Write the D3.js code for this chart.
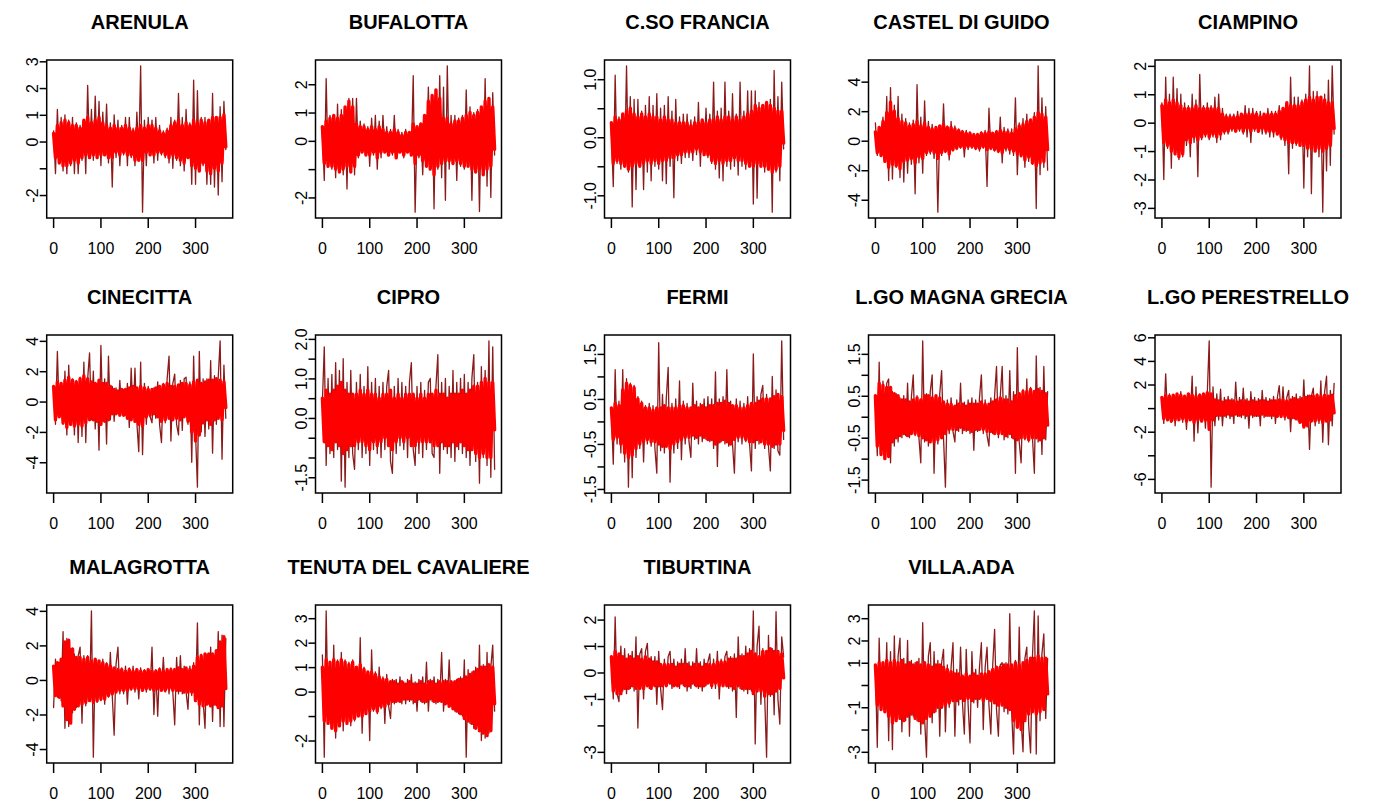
<!DOCTYPE html>
<html>
<head>
<meta charset="utf-8">
<script src="https://cdn.jsdelivr.net/npm/d3@7"></script>
<style>
  body { margin: 0; background: #fff; }
  text { font-family: "Liberation Sans", Arial, sans-serif; }
</style>
</head>
<body>
<script>
// station names, in panel order
const stations = ["ARENULA", "BUFALOTTA", "C.SO FRANCIA", "CASTEL DI GUIDO", "CIAMPINO",
  "CINECITTA", "CIPRO", "FERMI", "L.GO MAGNA GRECIA", "L.GO PERESTRELLO",
  "MALAGROTTA", "TENUTA DEL CAVALIERE", "TIBURTINA", "VILLA.ADA"];

// observed series (dark line), values read every ~4 days
const arenula = [0.4,-1.2,1.2,-0.6,0.9,-1.1,1.0,-1.2,0.8,-0.9,0.9,-1.2,0.7,-1.2,0.6,-0.7,0.8,-1.2,2.1,-0.5,1.2,-0.7,1.7,-0.6,1.5,-0.9,1.1,-0.5,1.4,-0.8,0.7,-1.7,1.0,-0.6,0.8,-0.9,0.6,-0.5,0.9,-0.9,0.9,-0.6,0.5,-0.9,1.1,-0.6,2.83,-2.64,0.8,-0.9,0.9,-0.5,0.8,-0.8,0.9,-0.7,0.6,-0.5,0.4,-0.6,0.5,-0.8,0.9,-1.0,0.8,-0.7,1.8,-0.9,0.9,-1.1,1.2,-0.6,0.7,-1.6,2.3,-1.6,1.9,-1.1,0.9,-0.9,0.9,-1.6,0.8,-1.6,1.8,-1.7,0.9,-2.0,1.3,-1.5,1.5,-0.3];
const bufalotta = [0.3,-1.4,2.2,-0.9,0.9,-1.0,0.8,-1.3,1.3,-1.0,1.1,-1.2,1.0,-1.7,1.5,-1.0,1.5,-1.2,1.5,-0.6,0.7,-0.4,0.6,-0.5,0.5,-0.9,0.8,-0.5,0.9,-1.0,0.7,-0.6,0.9,-0.4,0.5,-0.5,0.4,-0.5,0.9,-0.6,0.4,-0.4,0.3,-0.6,0.4,-0.3,0.3,-0.5,2.3,-2.52,0.4,-0.6,0.5,-1.2,0.6,-0.7,1.9,-0.8,1.5,-2.4,1.8,-1.0,2.3,-1.3,1.9,-2.1,2.65,-1.0,0.9,-0.8,0.9,-1.4,0.8,-0.9,0.9,-1.0,1.8,-0.9,1.2,-2.1,1.0,-1.0,1.1,-2.5,1.2,-1.1,2.2,-1.6,1.5,-2.0,1.7,-0.5];
const corsoFrancia = [0.1,-0.85,1.07,-0.45,0.35,-0.55,0.4,-0.5,1.23,-0.6,0.7,-1.2,0.65,-0.9,0.65,-0.5,0.45,-0.9,0.55,-0.6,0.7,-0.75,0.55,-0.5,0.75,-0.55,0.5,-0.75,0.55,-0.8,0.7,-0.5,0.45,-1.04,0.65,-0.4,0.35,-0.45,0.4,-0.35,0.4,-0.35,0.3,-0.4,0.35,-0.3,0.6,-0.5,0.3,-0.3,0.5,-0.35,0.4,-0.45,0.95,-0.55,0.45,-0.7,0.5,-0.75,0.95,-0.5,0.45,-0.55,0.75,-0.5,0.4,-0.65,0.95,-0.5,0.45,-0.55,0.8,-0.5,0.8,-1.15,0.8,-1.05,0.6,-0.5,0.55,-0.6,0.6,-0.55,0.65,-1.29,1.15,-0.6,0.7,-0.75,0.95,-0.2];
const castelDiGuido = [1.2,-1.0,0.8,-0.6,1.6,-1.2,3.0,-2.7,3.6,-2.6,2.4,-1.8,3.0,-2.5,1.8,-2.8,1.5,-2.2,1.2,-1.6,1.4,-3.6,3.8,-1.5,1.6,-2.2,2.7,-1.0,1.3,-0.9,1.1,-1.2,0.9,-4.84,0.9,-1.0,2.5,-0.8,1.0,-1.3,1.3,-0.7,1.0,-0.6,0.8,-0.5,0.7,-1.1,0.7,-0.6,0.6,-0.5,0.5,-0.6,0.5,-0.7,0.6,-0.5,0.7,-3.1,2.2,-0.6,0.5,-0.7,0.7,-0.8,1.6,-1.5,0.9,-0.7,0.8,-0.9,0.8,-1.0,2.9,-2.3,1.2,-1.1,1.5,-1.8,1.8,-1.4,1.4,-1.6,1.9,-4.6,5.07,-2.3,2.9,-1.8,2.3,-2.0];
const ciampino = [0.7,-2.0,1.6,-0.9,1.0,-1.6,1.6,-1.0,1.2,-1.3,1.0,-1.2,0.7,-0.8,0.6,-1.2,1.0,-0.7,0.8,-1.9,1.7,-0.6,0.6,-0.5,0.7,-0.6,0.6,-0.5,0.9,-0.7,1.0,-0.6,0.5,-0.4,0.3,-0.4,0.3,-0.3,0.3,-0.3,0.4,-0.3,0.3,-0.4,0.6,-0.5,0.5,-0.7,0.5,-0.3,0.4,-0.3,0.4,-0.4,0.3,-0.4,0.5,-0.5,0.4,-0.5,0.4,-0.4,0.6,-0.6,0.5,-0.8,0.6,-1.8,1.6,-0.9,0.9,-0.8,0.9,-0.7,0.8,-2.3,1.0,-1.2,2.0,-2.5,1.1,-1.0,1.1,-1.2,0.9,-3.15,1.0,-1.7,1.5,-1.5,2.0,-0.4];
const cinecitta = [0.8,-1.5,3.3,-0.8,1.2,-1.5,2.0,-2.2,2.4,-1.4,1.5,-2.2,1.4,-2.7,1.6,-2.3,2.6,-2.7,1.5,3.2,-1.2,2.0,-1.8,1.2,-3.2,3.7,-1.3,1.5,-2.8,3.0,-1.2,1.0,-1.3,0.9,-0.8,1.4,-0.7,0.8,-0.9,1.2,-1.7,2.2,-1.0,2.2,-1.4,-3.3,2.6,-3.5,1.2,-1.5,1.0,-1.0,-1.4,0.9,-1.1,1.3,-1.5,-2.7,1.2,-1.4,1.5,3.0,-2.6,1.2,1.8,-1.5,-2.2,1.4,-1.9,1.5,1.6,-1.5,1.3,-4.0,3.0,-2.1,-5.64,3.3,-2.0,1.5,-2.3,1.5,-1.8,2.7,-3.4,1.7,-1.5,1.6,4.0,-3.8,2.4,-1.1];
const cipro = [0.4,1.8,-1.2,1.0,-0.9,1.1,-1.0,1.4,-0.8,1.2,-1.6,1.5,-1.75,0.9,-1.0,1.2,-0.9,-1.3,0.9,-0.8,1.1,-1.0,0.8,-0.9,1.3,-1.2,0.9,-0.8,1.0,-0.9,0.8,-1.0,0.9,-0.8,0.8,1.2,-1.1,-1.4,0.8,-0.9,1.0,-0.7,0.9,-0.8,0.8,-1.0,0.9,1.4,-0.8,-1.2,0.8,-0.9,0.9,-1.0,0.7,-0.8,0.9,1.0,-0.9,-1.0,0.8,1.6,-1.4,0.9,-0.8,1.0,-0.9,0.8,-1.0,1.2,-1.1,0.9,-0.8,1.0,-0.9,1.1,-1.0,0.9,-1.2,1.0,1.6,-1.1,0.9,-1.65,1.3,-1.0,1.2,-1.2,1.95,-1.5,1.8,-1.3];
const fermi = [0.2,-0.95,1.15,-0.5,0.45,-0.7,1.15,-0.9,0.95,-1.46,0.85,-1.25,0.8,-0.8,0.55,-0.6,0.45,-0.9,0.35,-0.5,0.4,-0.55,0.35,-0.6,-1.15,1.75,-0.65,0.6,-0.7,0.5,1.2,-1.35,0.4,-0.7,0.5,-0.6,0.9,-0.85,0.45,-0.5,0.4,-0.45,-0.8,0.85,-0.4,0.45,-0.5,0.4,-0.45,0.5,-0.4,0.55,-0.45,0.5,-0.6,1.1,-1.0,0.5,-0.45,0.55,-0.5,1.15,-0.55,0.45,-0.5,-1.15,0.5,-0.45,0.45,-0.5,0.4,-0.45,0.55,-0.5,-1.1,1.5,-0.6,0.55,-0.5,0.6,0.8,-0.6,0.6,-0.55,-1.1,1.0,-0.6,0.7,-0.65,-0.75,1.79,-0.4];
const magnaGrecia = [0.4,-0.93,1.3,-0.9,0.85,-1.0,0.8,0.9,-1.1,0.6,-0.7,0.55,-0.6,0.45,-0.5,0.5,-0.45,0.8,-0.5,0.45,1.0,-0.45,0.5,-0.5,-1.1,1.81,-0.6,0.55,-0.7,0.6,1.0,-1.35,0.5,-0.65,0.55,1.1,-0.5,-1.68,0.4,-0.4,0.45,-0.35,-0.6,0.4,-0.35,0.8,-0.4,0.35,-0.35,0.4,-0.4,0.45,-0.8,0.4,-0.35,0.45,1.0,-0.4,0.4,-0.45,-0.7,0.45,-0.4,0.5,1.2,-0.5,0.5,1.2,-0.55,0.5,-0.5,1.1,-0.5,0.6,-1.35,1.65,-0.6,-1.1,0.65,-0.55,0.9,-0.6,0.7,-0.5,-1.35,1.45,-0.6,0.7,-0.9,1.2,-0.55,0.6];
const perestrello = [0.8,-1.3,2.9,-0.9,1.2,-1.2,1.0,-1.5,1.1,-0.9,1.4,-1.2,0.9,-1.8,1.2,-1.0,2.7,-2.8,1.8,-2.1,1.2,-1.1,1.0,-1.7,1.3,5.7,-6.7,1.8,-1.5,1.2,-1.0,1.6,-1.5,0.9,-0.8,1.0,-0.9,0.8,-1.3,2.2,-0.7,0.9,-0.8,1.7,-0.9,0.8,-1.7,1.4,-0.8,0.9,-0.7,0.8,-1.5,1.5,-0.8,0.9,-0.7,0.8,-0.9,1.0,-1.3,0.9,1.9,-0.8,1.8,-1.0,0.9,1.5,-2.0,1.0,-0.9,1.2,-1.1,1.0,-1.2,2.4,-1.5,1.1,-3.5,1.0,1.7,-1.5,1.2,-1.3,2.3,-2.9,1.4,2.7,-3.1,1.5,-1.5,2.1];
const malagrotta = [-1.6,1.2,-1.0,1.0,-1.2,2.8,-2.8,2.4,-2.7,1.8,-1.9,1.5,-1.6,1.4,1.9,-2.5,1.4,-1.5,1.4,-1.2,4.0,-4.47,1.2,-1.3,1.1,-1.2,1.2,-1.4,1.0,-1.0,1.6,-0.9,-3.2,0.9,1.9,-0.8,0.7,-0.8,0.8,-1.4,0.7,-0.6,0.8,-0.7,0.6,-1.1,0.7,-0.6,0.6,-0.7,0.5,-0.6,1.9,-2.0,0.6,-2.1,0.7,-0.6,1.3,-0.7,0.6,-0.8,0.7,-0.7,-2.6,1.3,-0.8,1.4,-0.8,0.8,-0.7,-1.7,0.8,-0.9,1.0,-1.1,3.3,-2.6,1.5,-1.2,-2.8,1.5,-1.4,1.9,-2.4,1.4,-1.5,2.8,-2.7,2.6,-2.7,2.4];
const tenuta = [1.5,-2.68,3.3,-1.0,1.2,-1.5,1.9,-1.9,1.3,-1.0,1.6,-1.6,1.3,-1.2,1.2,-1.4,1.3,-1.2,1.0,-1.0,2.2,-1.7,1.0,-0.9,0.8,-2.0,1.7,-0.8,0.8,-0.9,1.0,-0.7,0.6,-1.3,0.7,-0.6,-1.1,0.5,-0.5,0.5,-0.4,0.6,-0.5,0.4,-0.5,0.5,-0.4,0.7,-0.5,0.4,-0.8,0.5,-0.4,0.6,-0.5,1.2,-0.8,0.5,-0.4,0.6,-0.5,0.5,-0.4,1.6,-0.8,0.5,-0.5,1.3,-0.6,0.4,-0.8,0.5,-0.9,0.6,-1.0,1.3,-2.68,0.9,-1.3,0.8,-1.5,1.0,-1.4,1.9,-2.0,1.1,-1.9,1.6,-1.7,1.0,1.9,-0.8];
const tiburtina = [0.5,-1.0,2.1,-0.8,-1.1,1.0,-0.7,0.9,-0.8,0.7,-0.6,0.8,-0.7,1.35,-2.1,0.7,0.9,-1.0,0.8,1.1,-0.6,0.6,-0.5,0.6,-1.2,0.8,-0.6,-1.4,0.5,-0.5,0.6,0.8,-0.6,0.5,-0.5,0.4,-0.6,0.5,-0.5,0.9,-0.7,0.4,-0.6,0.4,-0.5,0.9,-0.6,0.4,-0.7,0.5,-0.5,0.4,0.7,-0.6,0.5,-0.6,0.8,-1.0,0.5,-0.5,0.6,0.8,-0.6,0.6,-0.7,0.7,-1.7,1.35,-0.6,0.7,-0.7,1.0,-0.8,0.9,-0.7,2.33,-2.7,1.0,1.75,-1.2,0.9,-0.9,-3.2,1.4,-0.9,0.9,-1.6,2.3,-1.0,-1.95,1.35,0.6];
const villaAda = [0.8,-2.8,2.1,-1.0,0.9,-1.2,1.9,-2.5,1.5,-2.9,2.2,-1.5,1.3,2.1,-2.1,1.2,-1.6,2.0,-2.3,1.1,-1.4,1.0,-1.6,1.2,-2.2,2.8,-1.5,-3.24,1.3,1.9,-1.7,1.5,-1.2,1.1,-2.3,1.0,1.6,-2.1,0.9,-1.0,0.8,1.9,-2.3,0.7,-0.9,1.7,-0.8,-2.2,1.6,-0.9,-2.6,1.5,-0.8,0.7,-1.0,0.8,1.9,-2.0,0.8,1.7,-0.9,-2.2,0.9,2.5,-1.1,-2.3,0.9,1.0,-1.2,1.0,-1.3,3.2,-1.2,-3.1,1.1,-1.5,2.6,-1.6,-3.0,1.2,1.7,-1.8,-3.05,1.3,3.33,-3.1,3.1,-1.6,1.4,2.3,-1.5,1.2];

// fitted series (red band)
const arenulaFit = [0.3,-0.6,0.6,-0.8,0.7,-0.9,0.8,-0.9,0.7,-0.8,0.6,-0.7,0.6,-0.8,0.5,-0.6,0.8,-0.5,0.9,-0.6,0.7,-0.5,0.8,-0.6,0.9,-0.5,0.7,-0.5,0.6,-0.6,0.5,-0.6,0.6,-0.4,0.5,-0.5,0.5,-0.4,0.6,-0.5,0.5,-0.5,0.4,-0.7,0.5,-0.7,0.6,-0.7,0.5,-0.4,0.6,-0.5,0.6,-0.5,0.5,-0.4,0.4,-0.4,0.3,-0.5,0.4,-0.6,0.6,-0.5,0.7,-0.6,0.8,-0.7,0.6,-0.8,0.7,-0.6,0.6,-0.9,0.8,-1.0,0.7,-1.1,0.8,-0.8,0.7,-1.1,0.8,-1.2,0.9,-1.0,0.9,-1.1,0.9,-0.8,1.0,-0.2];
const bufalottaFit = [0.5,-0.8,0.7,-0.9,0.8,-0.9,0.9,-1.0,0.8,-1.1,0.9,-1.0,1.2,-0.9,1.4,-1.1,1.2,-0.9,0.6,-0.5,0.5,-0.4,0.5,-0.5,0.4,-0.5,0.5,-0.4,0.4,-0.6,0.5,-0.4,0.4,-0.4,0.3,-0.5,0.3,-0.4,0.4,-0.6,0.3,-0.4,0.2,-0.5,0.3,-0.4,0.3,-0.5,0.6,-0.8,0.5,-0.5,0.6,-0.7,0.9,-0.9,1.4,-1.0,1.6,-1.2,1.8,-0.9,1.5,-0.8,0.8,-0.7,0.8,-0.7,0.6,-0.8,0.7,-0.7,0.7,-0.8,0.8,-0.9,0.9,-0.9,1.0,-1.0,0.9,-1.1,1.0,-1.0,1.2,-1.2,1.4,-1.0,1.5,-0.9,1.2,-0.3];
const corsoFranciaFit = [0.25,-0.45,0.35,-0.4,0.3,-0.45,0.4,-0.5,0.45,-0.55,0.5,-0.5,0.4,-0.45,0.35,-0.5,0.4,-0.45,0.35,-0.4,0.4,-0.45,0.35,-0.4,0.35,-0.45,0.3,-0.4,0.35,-0.4,0.3,-0.35,0.3,-0.35,0.25,-0.3,0.25,-0.3,0.25,-0.25,0.25,-0.25,0.2,-0.25,0.25,-0.2,0.25,-0.25,0.3,-0.3,0.25,-0.3,0.3,-0.4,0.3,-0.45,0.35,-0.4,0.3,-0.45,0.35,-0.4,0.35,-0.4,0.3,-0.35,0.35,-0.4,0.3,-0.4,0.35,-0.45,0.4,-0.5,0.45,-0.5,0.55,-0.45,0.5,-0.5,0.55,-0.5,0.6,-0.55,0.55,-0.6,0.5,-0.55,0.45,-0.5,0.45,-0.1];
const castelDiGuidoFit = [0.6,-0.8,0.9,-1.0,1.3,-1.4,1.9,-1.8,2.6,-1.6,2.0,-1.7,1.5,-1.9,1.3,-1.4,1.2,-1.3,1.0,-1.2,1.1,-1.5,1.3,-1.1,1.0,-1.2,1.2,-0.8,0.9,-0.7,0.8,-0.8,0.9,-1.2,1.0,-0.8,1.1,-0.7,0.9,-0.9,0.9,-0.6,0.8,-0.5,0.7,-0.4,0.6,-0.5,0.5,-0.4,0.5,-0.4,0.4,-0.5,0.4,-0.5,0.5,-0.4,0.5,-0.6,0.6,-0.5,0.5,-0.6,0.6,-0.7,0.7,-0.8,0.6,-0.5,0.6,-0.6,0.5,-0.7,0.8,-0.9,1.0,-1.0,1.1,-1.3,1.3,-1.1,1.4,-1.5,1.6,-1.7,1.9,-1.5,1.8,-1.4,1.6,-0.6];
const ciampinoFit = [0.6,-0.7,0.8,-0.8,0.7,-1.0,0.8,-1.1,0.7,-1.2,0.6,-1.1,0.5,-0.6,0.5,-0.7,0.5,-0.5,0.6,-0.6,0.5,-0.5,0.5,-0.4,0.5,-0.5,0.5,-0.4,0.5,-0.5,0.5,-0.4,0.3,-0.3,0.2,-0.3,0.2,-0.2,0.2,-0.3,0.2,-0.2,0.3,-0.3,0.3,-0.2,0.3,-0.3,0.3,-0.2,0.3,-0.3,0.2,-0.2,0.3,-0.3,0.3,-0.3,0.3,-0.3,0.3,-0.4,0.4,-0.5,0.5,-0.6,0.7,-0.7,0.6,-0.7,0.6,-0.7,0.6,-0.8,0.7,-0.8,0.8,-0.9,0.9,-0.9,0.8,-1.0,0.9,-0.9,0.9,-1.0,0.8,-0.9,0.7,-0.8,0.7,-0.2];
const cinecittaFit = [1.0,-1.2,1.3,-1.0,1.2,-1.4,1.4,-1.7,1.6,-1.5,1.4,-1.6,1.3,-1.5,1.5,-1.6,1.7,-1.4,1.5,-1.2,1.3,-1.2,1.2,-1.3,1.4,-1.5,1.2,-1.3,1.2,-1.2,1.0,-0.8,0.8,-0.8,0.7,-0.9,0.8,-0.9,0.8,-1.1,0.9,-1.2,1.0,-1.3,0.9,-1.5,1.0,-1.6,0.9,-1.0,0.8,-0.9,0.8,-0.8,0.9,-1.0,1.0,-1.3,1.1,-1.2,1.2,-1.1,1.0,-1.2,1.0,-1.1,1.1,-1.2,1.2,-1.0,1.2,-1.3,1.1,-2.0,1.3,-2.6,1.4,-2.2,1.2,-1.4,1.3,-1.2,1.4,-1.5,1.4,-1.2,1.5,-1.1,1.4,-1.2,1.3,-0.4];
const ciproFit = [0.5,-0.6,0.7,-0.7,0.6,-0.8,0.7,-0.6,0.8,-0.7,0.9,-0.9,0.7,-0.8,0.6,-0.7,0.6,-0.7,0.6,-0.6,0.7,-0.6,0.6,-0.7,0.7,-0.8,0.6,-0.6,0.6,-0.7,0.5,-0.6,0.6,-0.5,0.6,-0.7,0.7,-0.8,0.5,-0.6,0.6,-0.5,0.5,-0.6,0.6,-0.5,0.6,-0.7,0.6,-0.7,0.5,-0.6,0.6,-0.6,0.5,-0.6,0.6,-0.6,0.6,-0.7,0.7,-0.7,0.6,-0.6,0.6,-0.7,0.5,-0.7,0.6,-0.6,0.6,-0.7,0.6,-0.6,0.7,-0.7,0.6,-0.8,0.7,-0.8,0.8,-0.9,0.8,-1.0,0.9,-0.9,1.0,-1.0,0.9,-1.0,0.9,-0.3];
const fermiFit = [0.3,-0.4,0.4,-0.35,0.35,-0.5,0.7,-0.7,0.85,-0.8,0.8,-0.75,0.75,-0.6,0.5,-0.5,0.4,-0.45,0.3,-0.4,0.3,-0.45,0.25,-0.45,0.3,-0.5,0.3,-0.55,0.35,-0.55,0.3,-0.6,0.3,-0.5,0.3,-0.45,0.35,-0.4,0.35,-0.35,0.3,-0.35,0.3,-0.3,0.35,-0.35,0.3,-0.3,0.35,-0.35,0.3,-0.4,0.35,-0.4,0.35,-0.5,0.4,-0.45,0.4,-0.4,0.45,-0.45,0.4,-0.5,0.35,-0.4,0.35,-0.35,0.3,-0.35,0.3,-0.4,0.35,-0.45,0.4,-0.45,0.4,-0.4,0.45,-0.45,0.5,-0.5,0.5,-0.5,0.5,-0.55,0.55,-0.5,0.6,-0.5,0.55,-0.2];
const magnaGreciaFit = [0.5,-0.7,0.8,-0.9,0.75,-1.0,0.7,-0.95,0.7,-0.6,0.55,-0.5,0.5,-0.45,0.4,-0.4,0.4,-0.45,0.35,-0.4,0.4,-0.4,0.45,-0.45,0.4,-0.5,0.5,-0.55,0.5,-0.6,0.45,-0.6,0.5,-0.55,0.45,-0.5,0.35,-0.4,0.3,-0.3,0.3,-0.3,0.25,-0.3,0.3,-0.25,0.3,-0.3,0.25,-0.3,0.3,-0.35,0.3,-0.3,0.3,-0.3,0.35,-0.3,0.3,-0.35,0.3,-0.35,0.35,-0.4,0.4,-0.4,0.45,-0.4,0.4,-0.45,0.4,-0.4,0.35,-0.5,0.5,-0.55,0.55,-0.5,0.6,-0.5,0.6,-0.55,0.65,-0.5,0.6,-0.5,0.65,-0.55,0.6,-0.5,0.55,-0.2];
const perestrelloFit = [0.9,-0.9,1.1,-1.0,1.0,-1.1,1.1,-1.0,1.2,-1.0,1.1,-0.9,1.0,-1.1,1.2,-1.0,1.1,-1.2,1.0,-1.0,1.1,-1.1,1.2,-1.0,1.3,-1.8,1.2,-1.0,0.7,-0.6,0.6,-0.6,0.5,-0.6,0.6,-0.5,0.6,-0.6,0.6,-0.5,0.5,-0.6,0.6,-0.5,0.6,-0.6,0.5,-0.5,0.6,-0.6,0.5,-0.6,0.6,-0.5,0.6,-0.6,0.5,-0.6,0.6,-0.6,0.6,-0.7,0.7,-0.7,0.7,-0.7,0.6,-0.8,0.7,-0.8,0.8,-0.9,0.7,-1.2,0.8,-1.6,0.9,-1.5,1.0,-1.1,1.0,-1.1,1.1,-1.0,1.0,-1.2,1.1,-1.1,1.0,-1.0,1.1,-0.4];
const malagrottaFit = [0.8,-0.9,1.0,-1.0,1.2,-1.5,2.2,-2.3,2.3,-2.5,1.8,-1.7,1.3,-1.5,1.3,-1.4,1.2,-1.3,1.3,-1.2,1.1,-1.3,1.2,-1.2,1.1,-1.1,1.0,-1.1,0.9,-0.9,0.8,-0.8,0.7,-0.7,0.6,-0.6,0.6,-0.6,0.5,-0.6,0.6,-0.5,0.5,-0.5,0.6,-0.5,0.5,-0.6,0.5,-0.5,0.6,-0.5,0.5,-0.6,0.5,-0.5,0.6,-0.6,0.5,-0.6,0.6,-0.5,0.6,-0.6,0.6,-0.6,0.7,-0.6,0.6,-0.7,0.7,-0.7,0.6,-0.7,0.8,-1.2,1.3,-1.4,1.4,-1.5,1.5,-1.4,1.5,-1.5,1.5,-1.4,1.7,-1.6,2.2,-1.5,2.5,-0.5];
const tenutaFit = [1.0,-1.2,1.3,-1.3,1.2,-1.5,1.3,-1.6,1.2,-1.4,1.3,-1.2,1.2,-1.3,1.1,-1.2,1.2,-1.1,1.0,-1.0,1.1,-1.0,0.9,-0.9,0.8,-0.8,0.8,-0.7,0.7,-0.8,0.6,-0.6,0.5,-0.6,0.5,-0.5,0.4,-0.4,0.4,-0.4,0.3,-0.4,0.4,-0.3,0.3,-0.3,0.4,-0.3,0.3,-0.4,0.3,-0.3,0.4,-0.4,0.3,-0.4,0.4,-0.3,0.4,-0.4,0.3,-0.4,0.4,-0.4,0.4,-0.5,0.4,-0.6,0.4,-0.7,0.4,-0.8,0.5,-0.9,0.5,-1.1,0.6,-1.2,0.7,-1.3,0.8,-1.5,0.9,-1.6,1.0,-1.7,1.0,-1.8,1.1,-1.6,1.0,-0.5];
const tiburtinaFit = [0.6,-0.7,0.8,-0.8,0.7,-0.8,0.6,-0.6,0.5,-0.6,0.6,-0.5,0.5,-0.6,0.6,-0.6,0.5,-0.6,0.6,-0.5,0.5,-0.6,0.4,-0.5,0.4,-0.5,0.3,-0.5,0.3,-0.5,0.3,-0.4,0.3,-0.5,0.2,-0.5,0.3,-0.4,0.3,-0.5,0.3,-0.5,0.2,-0.4,0.3,-0.5,0.3,-0.5,0.2,-0.5,0.3,-0.4,0.3,-0.5,0.3,-0.4,0.4,-0.5,0.4,-0.5,0.4,-0.5,0.5,-0.5,0.5,-0.6,0.5,-0.5,0.6,-0.6,0.6,-0.6,0.7,-0.6,0.8,-0.8,0.7,-0.7,0.6,-0.7,0.8,-0.9,0.8,-0.8,0.9,-0.8,0.8,-0.7,0.8,-0.6,0.7,-0.2];
const villaAdaFit = [0.9,-0.9,1.0,-1.1,1.0,-1.2,1.1,-1.4,1.0,-1.7,1.1,-1.6,1.0,-1.5,1.1,-1.6,0.9,-1.4,1.0,-1.3,0.9,-1.5,1.0,-1.6,0.9,-1.7,1.0,-1.5,0.9,-1.4,0.8,-1.2,0.9,-1.0,0.9,-1.0,0.8,-0.9,0.7,-0.8,0.6,-0.7,0.5,-0.7,0.5,-0.6,0.4,-0.7,0.5,-0.6,0.4,-0.7,0.5,-0.6,0.4,-0.6,0.5,-0.7,0.5,-0.6,0.6,-0.7,0.7,-0.8,0.8,-0.9,0.8,-0.9,0.9,-1.0,0.9,-1.1,0.9,-1.6,1.0,-1.9,0.9,-2.0,1.0,-1.6,1.1,-1.3,1.2,-1.2,1.2,-1.3,1.3,-1.2,1.2,-1.1,1.2,-0.4];

const observed = [arenula, bufalotta, corsoFrancia, castelDiGuido, ciampino, cinecitta, cipro,
  fermi, magnaGrecia, perestrello, malagrotta, tenuta, tiburtina, villaAda];
const fitted = [arenulaFit, bufalottaFit, corsoFranciaFit, castelDiGuidoFit, ciampinoFit, cinecittaFit, ciproFit,
  fermiFit, magnaGreciaFit, perestrelloFit, malagrottaFit, tenutaFit, tiburtinaFit, villaAdaFit];

// y tick values and the labels R managed to print (blank = skipped)
const yTicks = [
  [-2,-1,0,1,2,3], [-2,-1,0,1,2], [-1,-0.5,0,0.5,1], [-4,-2,0,2,4], [-3,-2,-1,0,1,2],
  [-4,-2,0,2,4], [-1.5,-1,-0.5,0,0.5,1,1.5,2], [-1.5,-1,-0.5,0,0.5,1,1.5], [-1.5,-1,-0.5,0,0.5,1,1.5], [-6,-4,-2,0,2,4,6],
  [-4,-2,0,2,4], [-2,-1,0,1,2,3], [-3,-2,-1,0,1,2], [-3,-2,-1,0,1,2,3]];
const yLabels = [
  ["-2","","0","1","2","3"], ["-2","","0","1","2"], ["-1.0","","0.0","","1.0"], ["-4","-2","0","2","4"], ["-3","-2","-1","0","1","2"],
  ["-4","-2","0","2","4"], ["-1.5","","","0.0","","1.0","","2.0"], ["-1.5","","-0.5","","0.5","","1.5"], ["-1.5","","-0.5","","0.5","","1.5"], ["-6","","-2","","2","4","6"],
  ["-4","-2","0","2","4"], ["-2","","0","1","2","3"], ["-3","","-1","0","1","2"], ["-3","","-1","","1","2","3"]];
const xTicks = [0, 100, 200, 300];

// layout
const width = 1373, height = 805;
const colLeft = [46.7, 315.5, 604.5, 868.5, 1155];
const rowTop = [60, 335, 605];
const plotW = 186, plotH = 158;

const svg = d3.select("body").append("svg")
  .attr("width", width)
  .attr("height", height);

stations.forEach(function (name, k) {
  const left = colLeft[k % 5];
  const top = rowTop[Math.floor(k / 5)];
  const obs = observed[k], fit = fitted[k];

  // R style 4% padding on both axes
  const x = d3.scaleLinear().domain([1 - 0.04 * 364, 365 + 0.04 * 364]).range([left, left + plotW]);
  const ext = d3.extent(obs.concat(fit));
  const pad = (ext[1] - ext[0]) * 0.04;
  const y = d3.scaleLinear().domain([ext[0] - pad, ext[1] + pad]).range([top + plotH, top]);

  const g = svg.append("g");

  function drawSeries(values, color, lw) {
    const day = d3.scaleLinear().domain([0, values.length - 1]).range([1, 365]);
    g.append("path")
      .datum(values)
      .attr("fill", "none")
      .attr("stroke", color)
      .attr("stroke-width", lw)
      .attr("stroke-linejoin", "round")
      .attr("stroke-linecap", "round")
      .attr("d", d3.line().x((d, i) => x(day(i))).y(d => y(d)));
  }
  drawSeries(obs, "#8b1a1a", 1.3);
  drawSeries(fit, "#ff0000", 3.4);

  g.append("rect")
    .attr("x", left).attr("y", top)
    .attr("width", plotW).attr("height", plotH)
    .attr("fill", "none").attr("stroke", "#000").attr("stroke-width", 1.5);

  // x axis
  const gx = g.append("g").attr("transform", "translate(0," + (top + plotH) + ")")
    .call(d3.axisBottom(x).tickValues(xTicks).tickSize(10).tickSizeOuter(0).tickPadding(15));
  gx.select(".domain").remove();
  gx.selectAll("line").attr("stroke", "#000").attr("stroke-width", 1.5);
  gx.selectAll("text").attr("font-size", 16).attr("fill", "#000");

  // y axis, labels parallel to the axis
  const gy = g.append("g").attr("transform", "translate(" + left + ",0)")
    .call(d3.axisLeft(y).tickValues(yTicks[k]).tickSize(7).tickSizeOuter(0)
      .tickFormat(d => yLabels[k][yTicks[k].indexOf(d)]));
  gy.select(".domain").remove();
  gy.selectAll("line").attr("stroke", "#000").attr("stroke-width", 1.5);
  gy.selectAll("text")
    .attr("x", null).attr("dy", null)
    .attr("text-anchor", "middle")
    .attr("transform", "translate(-9,0) rotate(-90)")
    .attr("font-size", 16).attr("fill", "#000");

  // title
  g.append("text")
    .attr("x", left + plotW / 2)
    .attr("y", top - 31)
    .attr("text-anchor", "middle")
    .attr("font-size", 20)
    .attr("font-weight", "bold")
    .text(name);
});
</script>
</body>
</html>
